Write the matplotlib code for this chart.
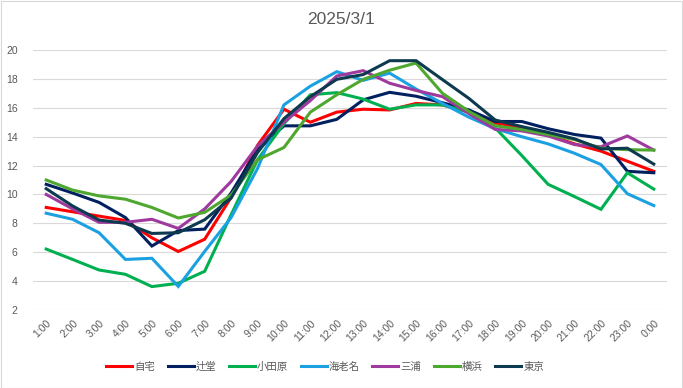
"""Hourly temperature chart, 2025/3/1."""

import matplotlib
matplotlib.use("Agg")
import matplotlib.pyplot as plt
from matplotlib.patches import Rectangle

hours = [f"{h}:00" for h in range(1, 24)] + ["0:00"]

jitaku = [9.1, 8.8, 8.5, 8.2, 7.0, 6.05, 6.9, 9.8, 13.4, 15.9, 15.0, 15.7,
          15.9, 15.85, 16.3, 16.2, 15.7, 14.95, 14.65, 14.1, 13.5, 13.0, 12.3, 11.6]
tsujido = [10.7, 10.1, 9.45, 8.4, 6.43, 7.5, 7.6, 10.1, 13.1, 14.75, 14.75, 15.2,
           16.55, 17.07, 16.8, 16.35, 15.85, 15.05, 15.05, 14.55, 14.15, 13.9, 11.6, 11.5]
odawara = [6.22, 5.5, 4.77, 4.47, 3.62, 3.85, 4.68, 8.6, 12.4, 14.9, 16.9, 17.05,
           16.6, 15.9, 16.2, 16.2, 15.7, 14.6, 12.7, 10.7, 9.85, 8.97, 11.5, 10.37]
ebina = [8.7, 8.28, 7.35, 5.5, 5.58, 3.63, 6.06, 8.4, 11.8, 16.2, 17.5, 18.5,
         17.9, 18.4, 17.3, 16.3, 15.35, 14.55, 14.0, 13.5, 12.85, 12.07, 10.05, 9.23]
miura = [10.0, 9.0, 8.07, 8.07, 8.28, 7.65, 9.0, 10.9, 13.35, 15.0, 16.5, 18.2,
         18.57, 17.7, 17.2, 16.77, 15.6, 14.5, 14.4, 14.05, 13.45, 13.3, 14.05, 13.07]
yokohama = [11.0, 10.3, 9.9, 9.67, 9.1, 8.37, 8.76, 9.96, 12.4, 13.25, 15.7, 16.9,
            17.97, 18.6, 19.1, 17.0, 15.75, 14.75, 14.5, 14.15, 13.8, 13.2, 13.1, 13.07]
tokyo = [10.4, 9.2, 8.23, 8.0, 7.3, 7.35, 8.25, 9.75, 12.9, 15.25, 16.77, 17.97,
         18.3, 19.26, 19.26, 17.95, 16.65, 15.15, 14.7, 14.3, 13.85, 13.15, 13.2, 12.1]

series = [
    ("自宅", jitaku, "#FF0000"),
    ("辻堂", tsujido, "#002060"),
    ("小田原", odawara, "#00B050"),
    ("海老名", ebina, "#1BA1E2"),
    ("三浦", miura, "#9E3A9E"),
    ("横浜", yokohama, "#4EA72E"),
    ("東京", tokyo, "#0E3A4F"),
]
y_ticks = list(range(2, 21, 2))

plt.rcParams["font.family"] = ["Liberation Sans", "Noto Sans CJK JP", "DejaVu Sans"]
text_color = "#595959"

fig = plt.figure(figsize=(6.83, 3.88), dpi=100)
fig.patches.append(Rectangle((0.001, 0.001), 0.997, 0.997, transform=fig.transFigure,
                             fill=False, edgecolor="#D9D9D9", linewidth=0.8))
ax = fig.add_axes([33 / 683, 1 - 310 / 388, 634 / 683, 260 / 388])

x = list(range(len(hours)))
for name, values, color in series:
    ax.plot(x, values, color=color, linewidth=2.2, label=name, solid_joinstyle="miter")

ax.set_xlim(-0.5, len(hours) - 0.5)
ax.set_ylim(2, 20)
ax.set_yticks(y_ticks)
ax.set_xticks(x)
ax.set_xticklabels(hours, rotation=45, ha="right", va="top", rotation_mode="anchor")
ax.tick_params(axis="both", length=0, labelsize=7.5, colors=text_color)
ax.tick_params(axis="x", pad=6)
ax.tick_params(axis="y", pad=11)
ax.grid(axis="y", color="#D9D9D9", linewidth=0.8)
ax.set_axisbelow(True)
for spine in ax.spines.values():
    spine.set_visible(False)

fig.text(0.5, 1 - 20 / 388, "2025/3/1", ha="center", va="center",
         fontsize=12.5, color=text_color)

fig.legend(loc="center", bbox_to_anchor=(0.476, 1 - 367 / 388), ncol=7, frameon=False,
           fontsize=7.5, handlelength=2.5, handletextpad=0.2, columnspacing=1.2,
           labelcolor=text_color)

fig.savefig("out.png", dpi=100)
